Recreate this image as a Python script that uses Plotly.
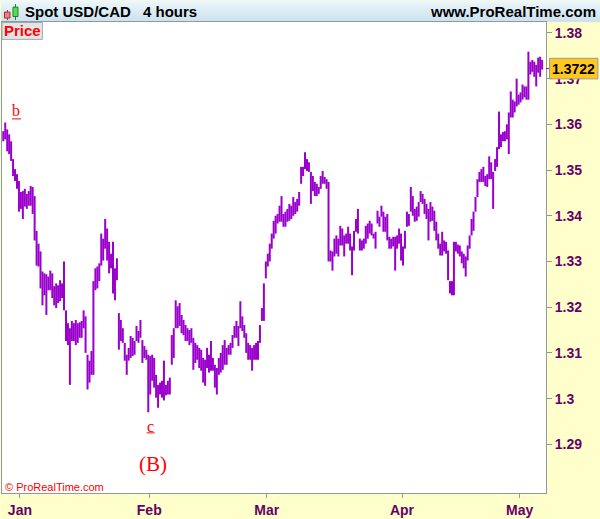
import pandas as pd
import plotly.graph_objects as go

# ---------------- data: 8-hour bars, USD/CAD spot ----------------
highs = [
    1.3585, 1.3604, 1.3589, 1.3578, 1.3563, 1.3524, 1.3502, 1.3491, 1.3476, 1.3452, 1.3454, 1.3459,
    1.3448, 1.3454, 1.3465, 1.3463, 1.3443, 1.3367, 1.3339, 1.3322, 1.3278, 1.3274, 1.3272, 1.3267,
    1.3280, 1.3274, 1.3246, 1.3252, 1.3248, 1.3259, 1.3252, 1.3300, 1.3193, 1.3165, 1.3154, 1.3170,
    1.3165, 1.3172, 1.3165, 1.3167, 1.3170, 1.3193, 1.3180, 1.3096, 1.3083, 1.3104, 1.3257, 1.3285,
    1.3289, 1.3296, 1.3361, 1.3350, 1.3393, 1.3372, 1.3343, 1.3317, 1.3343, 1.3285, 1.3307, 1.3187,
    1.3172, 1.3154, 1.3122, 1.3096, 1.3111, 1.3137, 1.3133, 1.3126, 1.3159, 1.3148, 1.3172, 1.3128,
    1.3115, 1.3107, 1.3096, 1.3093, 1.3096, 1.3089, 1.3052, 1.3030, 1.3035, 1.3039, 1.3083, 1.3030,
    1.3039, 1.3046, 1.3139, 1.3154, 1.3215, 1.3202, 1.3209, 1.3183, 1.3172, 1.3161, 1.3154, 1.3150,
    1.3154, 1.3133, 1.3122, 1.3117, 1.3111, 1.3107, 1.3089, 1.3085, 1.3111, 1.3096, 1.3126, 1.3089,
    1.3074, 1.3067, 1.3089, 1.3100, 1.3117, 1.3128, 1.3111, 1.3117, 1.3122, 1.3139, 1.3159, 1.3170,
    1.3159, 1.3213, 1.3180, 1.3161, 1.3143, 1.3122, 1.3117, 1.3111, 1.3117, 1.3122, 1.3126, 1.3161,
    1.3198, 1.3252, 1.3300, 1.3317, 1.3339, 1.3361, 1.3389, 1.3400, 1.3404, 1.3422, 1.3443, 1.3404,
    1.3409, 1.3415, 1.3426, 1.3422, 1.3441, 1.3430, 1.3437, 1.3452, 1.3507, 1.3507, 1.3539, 1.3524,
    1.3517, 1.3496, 1.3487, 1.3474, 1.3470, 1.3463, 1.3487, 1.3498, 1.3485, 1.3480, 1.3474, 1.3324,
    1.3322, 1.3350, 1.3357, 1.3350, 1.3378, 1.3372, 1.3357, 1.3361, 1.3376, 1.3361, 1.3333, 1.3367,
    1.3393, 1.3415, 1.3350, 1.3346, 1.3350, 1.3378, 1.3383, 1.3389, 1.3383, 1.3361, 1.3365, 1.3411,
    1.3398, 1.3422, 1.3409, 1.3398, 1.3404, 1.3354, 1.3350, 1.3354, 1.3354, 1.3357, 1.3372, 1.3361,
    1.3333, 1.3367, 1.3409, 1.3404, 1.3463, 1.3443, 1.3415, 1.3420, 1.3430, 1.3454, 1.3448, 1.3437,
    1.3426, 1.3415, 1.3430, 1.3420, 1.3411, 1.3387, 1.3361, 1.3339, 1.3365, 1.3346, 1.3343, 1.3324,
    1.3257, 1.3257, 1.3343, 1.3343, 1.3337, 1.3335, 1.3322, 1.3317, 1.3311, 1.3335, 1.3357, 1.3393,
    1.3409, 1.3441, 1.3480, 1.3496, 1.3502, 1.3507, 1.3487, 1.3491, 1.3530, 1.3517, 1.3496, 1.3524,
    1.3550, 1.3628, 1.3578, 1.3583, 1.3585, 1.3600, 1.3626, 1.3672, 1.3654, 1.3650, 1.3700, 1.3665,
    1.3670, 1.3687, 1.3683, 1.3683, 1.3759, 1.3737, 1.3741, 1.3737, 1.3730, 1.3746, 1.3748, 1.3741,
]
lows = [
    1.3563, 1.3567, 1.3541, 1.3535, 1.3520, 1.3487, 1.3476, 1.3459, 1.3409, 1.3415, 1.3393, 1.3420,
    1.3415, 1.3422, 1.3422, 1.3404, 1.3346, 1.3291, 1.3289, 1.3241, 1.3204, 1.3226, 1.3183, 1.3237,
    1.3237, 1.3220, 1.3204, 1.3198, 1.3209, 1.3213, 1.3220, 1.3193, 1.3126, 1.3117, 1.3030, 1.3126,
    1.3126, 1.3117, 1.3122, 1.3133, 1.3133, 1.3154, 1.3100, 1.3020, 1.3035, 1.3052, 1.3052, 1.3237,
    1.3241, 1.3257, 1.3291, 1.3302, 1.3328, 1.3302, 1.3274, 1.3285, 1.3230, 1.3215, 1.3259, 1.3107,
    1.3126, 1.3122, 1.3083, 1.3052, 1.3083, 1.3089, 1.3093, 1.3096, 1.3126, 1.3122, 1.3133, 1.3078,
    1.3089, 1.3085, 1.2970, 1.3009, 1.3039, 1.3024, 1.3002, 1.2980, 1.3009, 1.3002, 1.2996, 1.3007,
    1.3009, 1.3009, 1.3074, 1.3089, 1.3154, 1.3154, 1.3159, 1.3143, 1.3139, 1.3126, 1.3126, 1.3117,
    1.3122, 1.3063, 1.3078, 1.3085, 1.3067, 1.3061, 1.3035, 1.3028, 1.3067, 1.3057, 1.3061, 1.3061,
    1.3024, 1.3009, 1.3052, 1.3057, 1.3063, 1.3074, 1.3074, 1.3096, 1.3096, 1.3111, 1.3133, 1.3133,
    1.3115, 1.3154, 1.3148, 1.3133, 1.3100, 1.3085, 1.3085, 1.3061, 1.3085, 1.3085, 1.3085, 1.3122,
    1.3170, 1.3170, 1.3263, 1.3289, 1.3300, 1.3328, 1.3350, 1.3361, 1.3383, 1.3387, 1.3387, 1.3376,
    1.3376, 1.3387, 1.3389, 1.3393, 1.3400, 1.3404, 1.3409, 1.3422, 1.3470, 1.3487, 1.3502, 1.3498,
    1.3496, 1.3426, 1.3454, 1.3443, 1.3443, 1.3448, 1.3459, 1.3470, 1.3470, 1.3459, 1.3300, 1.3300,
    1.3280, 1.3311, 1.3317, 1.3311, 1.3335, 1.3335, 1.3311, 1.3339, 1.3339, 1.3324, 1.3270, 1.3324,
    1.3365, 1.3361, 1.3324, 1.3324, 1.3328, 1.3339, 1.3350, 1.3361, 1.3357, 1.3350, 1.3328, 1.3383,
    1.3376, 1.3398, 1.3365, 1.3365, 1.3346, 1.3328, 1.3328, 1.3333, 1.3280, 1.3328, 1.3339, 1.3302,
    1.3291, 1.3328, 1.3376, 1.3378, 1.3409, 1.3400, 1.3387, 1.3389, 1.3398, 1.3430, 1.3426, 1.3404,
    1.3393, 1.3346, 1.3387, 1.3389, 1.3367, 1.3346, 1.3328, 1.3313, 1.3313, 1.3322, 1.3317, 1.3259,
    1.3230, 1.3226, 1.3226, 1.3322, 1.3317, 1.3311, 1.3296, 1.3285, 1.3267, 1.3302, 1.3328, 1.3357,
    1.3367, 1.3409, 1.3441, 1.3474, 1.3474, 1.3474, 1.3465, 1.3463, 1.3480, 1.3480, 1.3415, 1.3498,
    1.3507, 1.3546, 1.3550, 1.3563, 1.3563, 1.3567, 1.3535, 1.3615, 1.3615, 1.3626, 1.3639, 1.3643,
    1.3648, 1.3654, 1.3659, 1.3654, 1.3654, 1.3709, 1.3715, 1.3704, 1.3683, 1.3713, 1.3704, 1.3720,
]
last_close = 1.3722
month_names = ["Jan", "Feb", "Mar", "Apr", "May"]
price_ticks = [1.29, 1.30, 1.31, 1.32, 1.33, 1.34, 1.35, 1.36, 1.37, 1.38]
price_labels = ["1.29", "1.3", "1.31", "1.32", "1.33", "1.34", "1.35", "1.36", "1.37", "1.38"]

# trading sessions (weekdays, 3 bars of 8 hours per day)
days = pd.bdate_range("2016-12-28", "2017-05-04")
times = [d + pd.Timedelta(hours=h) for d in days for h in (0, 8, 16)]
n = min(len(times), len(highs), len(lows))
times = times[:n]

# first bar of each month (excluding the partial December)
tick_idx, tick_txt = [], []
for i in range(1, n):
    if times[i].month != times[i - 1].month:
        tick_idx.append(i - 0.5)
        tick_txt.append(month_names[len(tick_txt)] if len(tick_txt) < len(month_names) else times[i].strftime("%b"))

PURPLE = "#9900cc"
AXIS_TXT = "#660066"
GRID_GRAY = "#8d9aa6"
W, H = 600, 519
ML, MR, MT, MB = 1, 54, 22, 23
PW, PH = W - ML - MR, H - MT - MB


def px2x(px):
    return (px - ML) / PW


def py2y(py):
    return (H - MB - py) / PH


xs, ys = [], []
for i in range(n):
    xs += [i, i, None]
    ys += [lows[i], highs[i], None]

fig = go.Figure()
fig.add_trace(go.Scatter(x=xs, y=ys, mode="lines", line=dict(color=PURPLE, width=2.0),
                         hoverinfo="skip", showlegend=False))

shapes = []
# header gradient
top_c = (236, 246, 251)
bot_c = (204, 226, 238)
nb = 11
for k in range(nb):
    t = k / (nb - 1)
    c = tuple(int(round(top_c[j] + (bot_c[j] - top_c[j]) * t)) for j in range(3))
    shapes.append(dict(type="rect", xref="paper", yref="paper",
                       x0=px2x(0), x1=px2x(W), y0=py2y(2 * k + 2), y1=py2y(2 * k),
                       fillcolor="rgb(%d,%d,%d)" % c, line=dict(width=0), layer="below"))
# candle icon
shapes += [
    dict(type="line", xref="paper", yref="paper", x0=px2x(6.5), x1=px2x(6.5), y0=py2y(20), y1=py2y(10),
         line=dict(color="#a03030", width=1)),
    dict(type="rect", xref="paper", yref="paper", x0=px2x(3.5), x1=px2x(9), y0=py2y(18), y1=py2y(12),
         fillcolor="#f08080", line=dict(color="#a03030", width=1)),
    dict(type="line", xref="paper", yref="paper", x0=px2x(14.5), x1=px2x(14.5), y0=py2y(20), y1=py2y(4),
         line=dict(color="#208020", width=1)),
    dict(type="rect", xref="paper", yref="paper", x0=px2x(12), x1=px2x(17), y0=py2y(16.5), y1=py2y(7),
         fillcolor="#55dd55", line=dict(color="#208020", width=1)),
]
# "Price" box
shapes.append(dict(type="rect", xref="paper", yref="paper", x0=px2x(1), x1=px2x(41.5),
                   y0=py2y(39.5), y1=py2y(22.5), fillcolor="#e4e4e4",
                   line=dict(color="#a0a8b0", width=1), layer="above"))
# last price marker
shapes.append(dict(type="line", xref="paper", yref="y", x0=px2x(546), x1=px2x(550),
                   y0=last_close, y1=last_close, line=dict(color=PURPLE, width=1), layer="above"))
shapes.append(dict(type="rect", xref="paper", yref="y", x0=px2x(549.5), x1=px2x(598),
                   y0=last_close - 0.00225, y1=last_close + 0.00225, fillcolor="#ffc81e",
                   line=dict(color="#9a9a9a", width=1), layer="above"))
# underlines for wave labels
shapes.append(dict(type="line", xref="paper", yref="paper", x0=px2x(11), x1=px2x(20),
                   y0=py2y(119.5), y1=py2y(119.5), line=dict(color="red", width=1)))
shapes.append(dict(type="line", xref="paper", yref="paper", x0=px2x(146), x1=px2x(154),
                   y0=py2y(435.5), y1=py2y(435.5), line=dict(color="red", width=1)))

annotations = [
    dict(text="<b>Spot USD/CAD</b>", x=px2x(22), y=py2y(11), xanchor="left", yanchor="middle",
         font=dict(family="Liberation Sans, Arial", size=15, color="black")),
    dict(text="<b>4 hours</b>", x=px2x(140), y=py2y(11), xanchor="left", yanchor="middle",
         font=dict(family="Liberation Sans, Arial", size=15, color="black")),
    dict(text="<b>www.ProRealTime.com</b>", x=px2x(598), y=py2y(11), xanchor="right", yanchor="middle",
         font=dict(family="Liberation Sans, Arial", size=15, color="black")),
    dict(text="<b>Price</b>", x=px2x(21.3), y=py2y(31), xanchor="center", yanchor="middle",
         font=dict(family="Liberation Sans, Arial", size=15, color="#ff0000")),
    dict(text="© ProRealTime.com", x=px2x(2), y=py2y(490), xanchor="left", yanchor="middle",
         font=dict(family="Liberation Sans, Arial", size=11, color="#ff0000")),
    dict(text="<b>1.3722</b>", x=px2x(574), y=last_close, yref="y", xanchor="center", yanchor="middle",
         font=dict(family="Liberation Sans, Arial", size=14, color="black")),
    dict(text="b", x=px2x(15.5), y=py2y(111), xanchor="center", yanchor="middle",
         font=dict(family="Liberation Serif, Times New Roman, serif", size=16, color="#ff0000")),
    dict(text="c", x=px2x(150), y=py2y(429), xanchor="center", yanchor="middle",
         font=dict(family="Liberation Serif, Times New Roman, serif", size=16, color="#ff0000")),
    dict(text="(B)", x=px2x(152.5), y=py2y(467), xanchor="center", yanchor="middle",
         font=dict(family="Liberation Serif, Times New Roman, serif", size=21, color="#ff0000")),
]
for a in annotations:
    a.setdefault("xref", "paper")
    a.setdefault("yref", "paper")
    a["showarrow"] = False

y_lo = 1.38 - (H - MB - 33) / 4600.0
y_hi = 1.38 + (33 - MT) / 4600.0
x_lo = (ML - 2.28) / 1.963
x_hi = (W - MR - 2.28) / 1.963

fig.update_layout(
    width=W, height=H,
    margin=dict(l=ML, r=MR, t=MT, b=MB, pad=0),
    paper_bgcolor="#ffffcc", plot_bgcolor="white",
    showlegend=False,
    shapes=shapes, annotations=annotations,
    xaxis=dict(range=[x_lo, x_hi], tickmode="array", tickvals=tick_idx, ticktext=tick_txt,
               ticks="outside", ticklen=4, tickcolor=GRID_GRAY, showgrid=False, zeroline=False,
               showline=True, linecolor=GRID_GRAY, linewidth=1, mirror=True,
               tickfont=dict(family="Liberation Sans, Arial", size=14, color=AXIS_TXT, weight="bold"),
               fixedrange=True),
    yaxis=dict(range=[y_lo, y_hi], side="right", tickmode="array", tickvals=price_ticks,
               ticktext=price_labels, ticks="outside", ticklen=5, tickcolor=GRID_GRAY,
               showgrid=False, zeroline=False, showline=True, linecolor=GRID_GRAY, linewidth=1,
               mirror=True,
               tickfont=dict(family="Liberation Sans, Arial", size=14, color=AXIS_TXT, weight="bold"),
               fixedrange=True),
)

fig.write_html("out.html", config={"displayModeBar": False},
               post_script="document.body.style.margin='0';document.body.style.overflow='hidden';")
